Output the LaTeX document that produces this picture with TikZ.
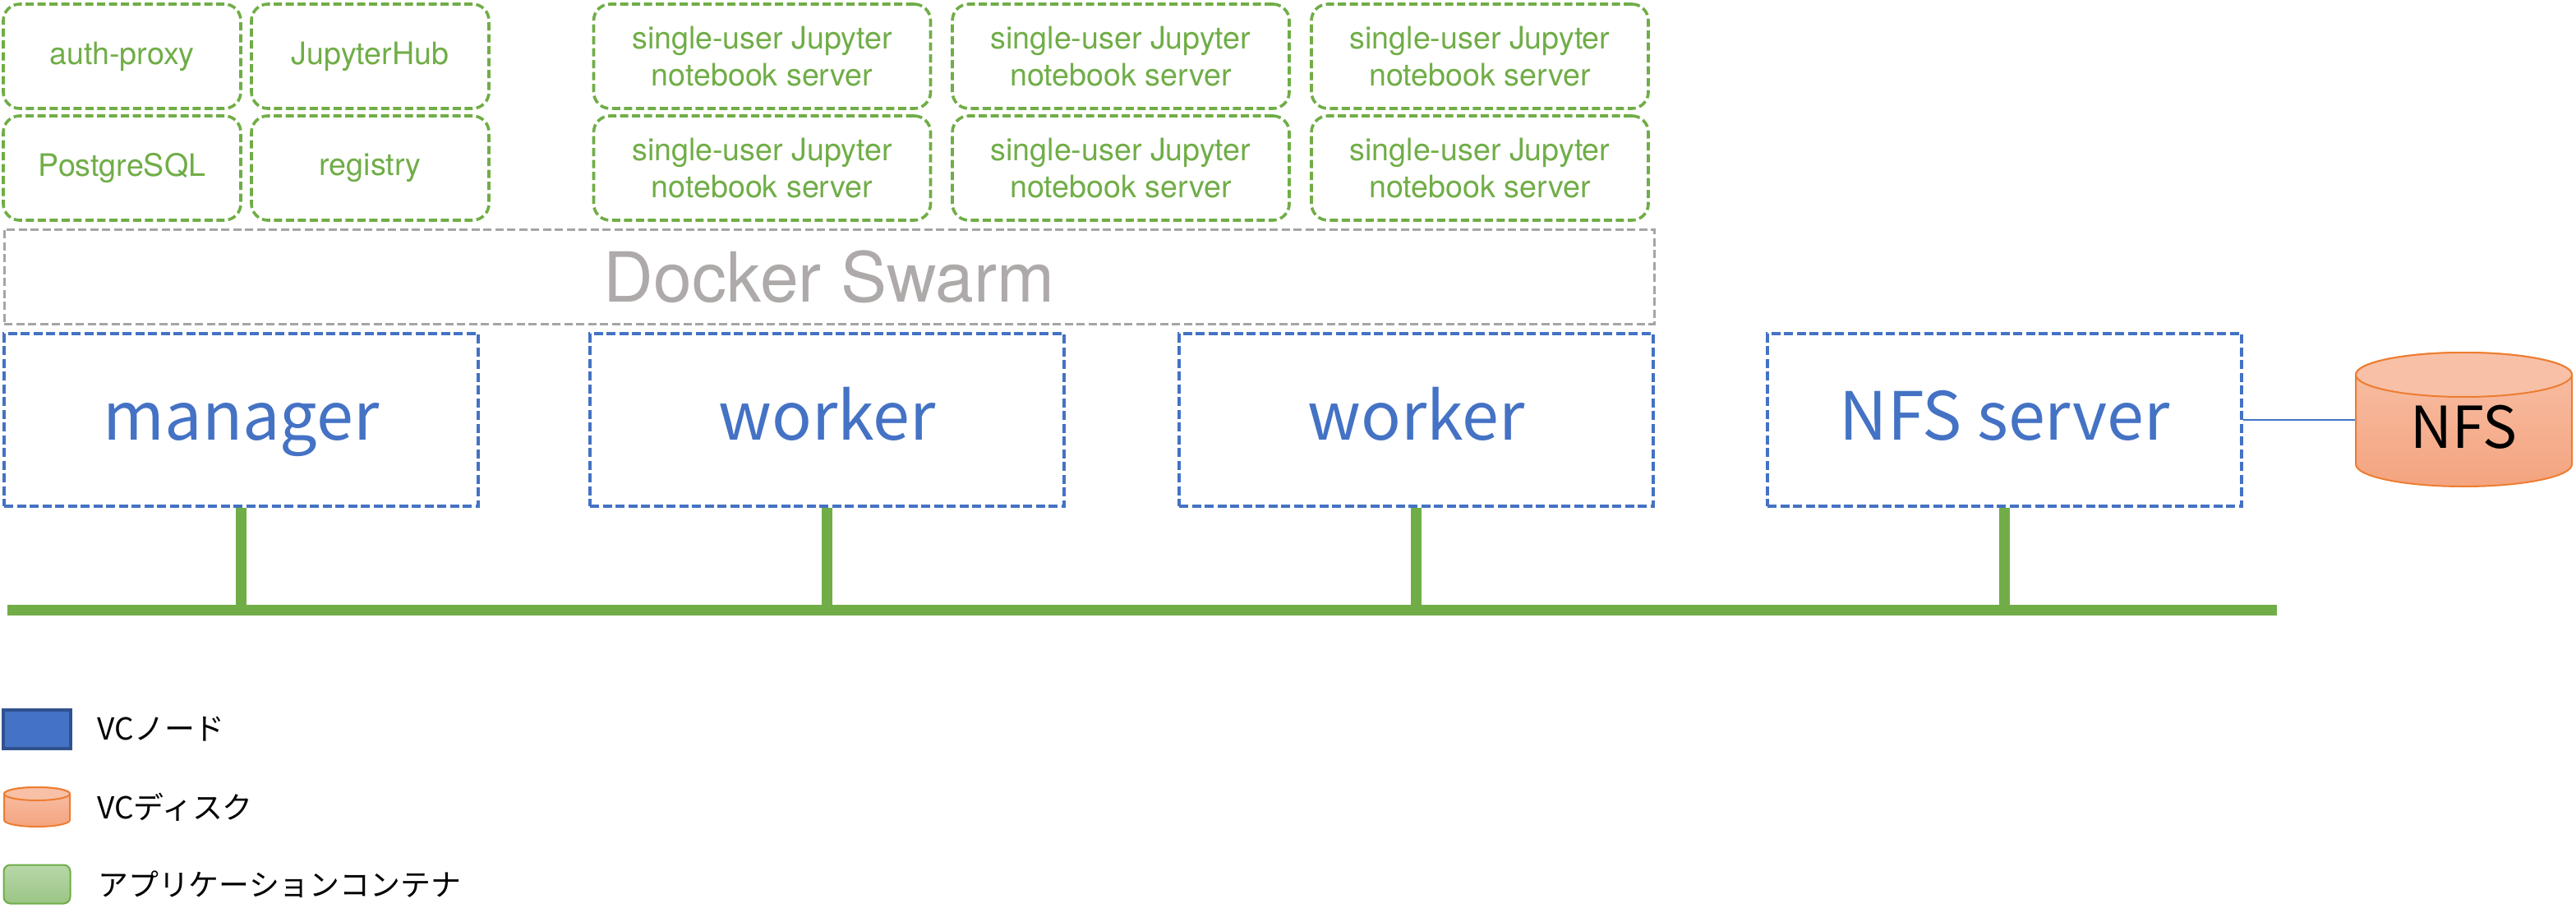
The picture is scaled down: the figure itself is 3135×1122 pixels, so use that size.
\documentclass[tikz,border=0pt]{standalone}
\usepackage{fontspec}
\setmainfont{TeX Gyre Heros}
\newfontfamily\jpfont{Noto Sans CJK JP}
\usepackage{xcolor}
\usepackage{tikz}
\usetikzlibrary{positioning,shapes}

\newlength\pxu
\setlength\pxu{0.1mm}
\definecolor{appgreen}{HTML}{70AD47}
\definecolor{vcblue}{HTML}{4472C4}
\definecolor{vcdark}{HTML}{2F528F}
\definecolor{swarmgray}{HTML}{A5A5A5}
\definecolor{swarmtext}{HTML}{AEAAAA}
\definecolor{diskline}{HTML}{ED7D31}
\definecolor{disktop}{HTML}{F8C0A7}
\definecolor{diskbot}{HTML}{F4A47F}
\definecolor{legtop}{HTML}{B7D7A8}
\definecolor{legbot}{HTML}{9BC585}

\begin{document}
\begin{tikzpicture}[
  x=0.1mm, y=-0.1mm,
  app/.style={rectangle,rounded corners=20\pxu,draw=appgreen,line width=3.6\pxu,
    dash pattern=on 10\pxu off 4.5\pxu,text=appgreen,align=center,inner sep=0pt,
    minimum height=127\pxu,font=\fontsize{10.7}{12.8}\selectfont},
  swarm/.style={rectangle,draw=swarmgray,line width=3\pxu,dash pattern=on 10\pxu off 4.5\pxu,
    text=swarmtext,minimum width=2008\pxu,minimum height=115\pxu,font=\fontsize{23.9}{28}\selectfont},
  vcnode/.style={rectangle,draw=vcblue,line width=4\pxu,dash pattern=on 11\pxu off 4.5\pxu,
    text=vcblue,minimum width=577\pxu,minimum height=210\pxu,text height=17pt,text depth=3.3pt,
    font=\jpfont\fontsize{23}{28}\selectfont},
  bus/.style={draw=appgreen,line width=13\pxu},
  legtext/.style={inner sep=0pt,font=\jpfont\fontsize{10.5}{12}\selectfont}]

  \useasboundingbox (0,0) rectangle (3135,1122);

  % containers
  \node[app,minimum width=289\pxu] (proxy) at (148.5,68.5) {auth-proxy};
  \node[app,minimum width=289\pxu] (hub) at (450.5,68.5) {JupyterHub};
  \node[app,minimum width=289\pxu] (pgsql) at (148.5,204.5) {PostgreSQL};
  \node[app,minimum width=289\pxu] (registry) at (450.5,204.5) {registry};
  \foreach \cx/\i in {927.5/1,1364/2,1801/3}{
    \node[app,minimum width=410\pxu] (nbtop\i) at (\cx,68.5) {single-user Jupyter\\notebook server};
    \node[app,minimum width=410\pxu] (nbbot\i) at (\cx,204.5) {single-user Jupyter\\notebook server};
  }

  \node[swarm] (swarm) at (1009,336.5) {Docker Swarm};

  % VC nodes
  \node[vcnode] (manager) at (293.5,511) {manager};
  \node[vcnode] (worker1) at (1006.5,511) {worker};
  \node[vcnode] (worker2) at (1723.5,511) {worker};
  \node[vcnode] (nfssrv) at (2439.5,511) {NFS server};

  % network
  \coordinate (busl) at (9,742.5);
  \coordinate (busr) at (2771,742.5);
  \draw[bus] (busl) -- (busr);
  \foreach \n in {manager,worker1,worker2,nfssrv}
    \draw[bus] (\n.south) -- (\n.south |- busl);

  % disk
  \path[draw=diskline,line width=2\pxu,top color=disktop,bottom color=diskbot]
    (2867,456) -- (2867,565) arc[start angle=180,end angle=0,x radius=131.5,y radius=27]
    -- (3130,456) arc[start angle=0,end angle=-180,x radius=131.5,y radius=27] -- cycle;
  \draw[diskline,line width=2\pxu,fill=disktop] (2998.5,456) ellipse[x radius=131.5,y radius=27];
  \node[minimum width=263\pxu,minimum height=100\pxu,inner sep=0pt,
    font=\jpfont\fontsize{20}{24}\selectfont] (nfs) at (2998.5,520) {NFS};
  \draw[vcblue,line width=2\pxu] (nfssrv.east) -- (nfssrv.east -| nfs.west);

  % legend
  \node[draw=vcdark,fill=vcblue,line width=4\pxu,minimum width=82\pxu,minimum height=47\pxu,
    inner sep=0pt] (legnode) at (45,887.5) {};
  \node[legtext,right=30\pxu of legnode] (legnodetxt) {VCノード};

  \path[draw=diskline,line width=2\pxu,top color=disktop,bottom color=diskbot]
    (5,966) -- (5,998) arc[start angle=180,end angle=0,x radius=40,y radius=8]
    -- (85,966) arc[start angle=0,end angle=-180,x radius=40,y radius=8] -- cycle;
  \draw[diskline,line width=2\pxu,fill=disktop] (45,966) ellipse[x radius=40,y radius=8];
  \node[minimum width=80\pxu,minimum height=48\pxu,inner sep=0pt] (legdisk) at (45,982) {};
  \node[legtext,right=32\pxu of legdisk] (legdisktxt) {VCディスク};

  \node[draw=appgreen,line width=2\pxu,rounded corners=8\pxu,top color=legtop,bottom color=legbot,
    minimum width=81\pxu,minimum height=47\pxu,inner sep=0pt] (legapp) at (45,1076) {};
  \node[legtext,right=32\pxu of legapp] (legapptxt) {アプリケーションコンテナ};
\end{tikzpicture}
\end{document}
